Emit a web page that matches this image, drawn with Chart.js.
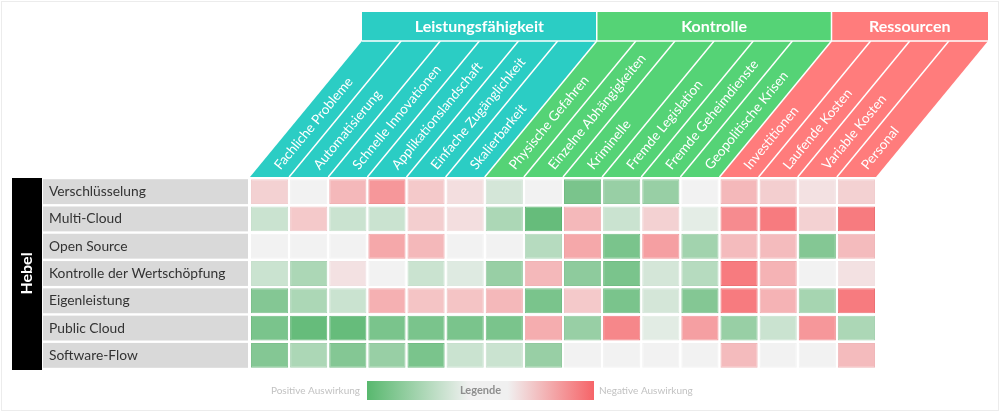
<!DOCTYPE html>
<html>
<head>
<meta charset="utf-8">
<script src="https://cdn.jsdelivr.net/npm/chart.js@4"></script>
<style>
  html, body { margin: 0; padding: 0; background: #fff; }
</style>
</head>
<body>
<canvas id="chart" width="1000" height="413"></canvas>
<script>
const criteria = [
  'Fachliche Probleme', 'Automatisierung', 'Schnelle Innovationen', 'Applikationslandschaft',
  'Einfache Zugänglichkeit', 'Skalierbarkeit',
  'Physische Gefahren', 'Einzelne Abhängigkeiten', 'Kriminelle', 'Fremde Legislation',
  'Fremde Geheimdienste', 'Geopolitische Krisen',
  'Investitionen', 'Laufende Kosten', 'Variable Kosten', 'Personal'
];
const groups = ['Leistungsfähigkeit', 'Kontrolle', 'Ressourcen'];
const groupSizes = [6, 6, 4];
const groupColors = ['#2bcdc4', '#55d376', '#ff7c7c'];

const levers = [
  'Verschlüsselung', 'Multi-Cloud', 'Open Source', 'Kontrolle der Wertschöpfung',
  'Eigenleistung', 'Public Cloud', 'Software-Flow'
];
const leverTitle = 'Hebel';

// > 0 = positive Auswirkung (grün), < 0 = negative Auswirkung (rot)
const impact = [
  [-0.2, 0, -0.35, -0.55, -0.25, -0.12, 0.15, 0, 0.6, 0.45, 0.45, 0, -0.35, -0.22, -0.1, -0.2],
  [0.2, -0.25, 0.2, 0.2, -0.22, -0.12, 0.35, 0.7, -0.35, 0.2, -0.2, 0.07, -0.62, -0.72, -0.2, -0.72],
  [0, 0, 0, -0.45, -0.35, 0, 0, 0.3, -0.45, 0.6, -0.5, 0.4, -0.33, -0.33, 0.55, -0.33],
  [0.2, 0.35, -0.1, 0, 0.2, 0.1, 0.45, -0.35, 0.5, 0.6, 0.15, 0.3, -0.72, -0.38, 0, -0.1],
  [0.55, 0.35, 0.2, -0.4, -0.28, -0.28, -0.35, 0.6, -0.25, 0.6, 0.15, 0.55, -0.72, -0.38, 0.38, -0.72],
  [0.6, 0.7, 0.7, 0.6, 0.6, 0.6, 0.6, -0.42, 0.45, -0.65, 0.08, -0.5, 0.45, 0.2, -0.55, 0.35],
  [0.55, 0.35, 0.55, 0.45, 0.6, 0.2, 0.2, 0.45, 0, 0, 0, 0, -0.33, 0, 0, -0.33]
];

const legendTitle = 'Legende';
const legendLeft = 'Positive Auswirkung';
const legendRight = 'Negative Auswirkung';

const NEUTRAL = [242, 242, 242];
const GOOD = [92, 184, 114];
const BAD = [247, 118, 122];
const SHIFT = 112;   // horizontal offset of the slanted headers
const HEAD_TOP = 41;
const FONT = 'Lato, "Open Sans", sans-serif';

function cellColor(v, dark) {
  const t = Math.min(1, Math.abs(v) / 0.75);
  const end = v >= 0 ? GOOD : BAD;
  const rgb = NEUTRAL.map((n, i) => Math.round(n + (end[i] - n) * t - (dark ? 10 * t : 0)));
  return `rgb(${rgb.join(',')})`;
}

function groupOf(col) {
  let sum = 0;
  for (let g = 0; g < groupSizes.length; g++) {
    sum += groupSizes[g];
    if (col < sum) return g;
  }
  return groupSizes.length - 1;
}

const GAP = 0.045;
const datasets = levers.map((lever, r) => ({
  label: lever,
  data: impact[r].map(() => [r + GAP, r + 1 - GAP]),
  backgroundColor: impact[r].map(v => cellColor(v)),
  borderColor: impact[r].map(v => cellColor(v, true)),
  borderWidth: 1,
  borderSkipped: false,
  grouped: false,
  barPercentage: 0.95,
  categoryPercentage: 1
}));

const decor = {
  id: 'decor',
  beforeDraw(chart) {
    const c = chart.ctx;
    c.save();
    c.fillStyle = '#fff';
    c.fillRect(0, 0, chart.width, chart.height);
    c.strokeStyle = '#ececec';
    c.lineWidth = 1;
    c.strokeRect(1.5, 1.5, chart.width - 3, chart.height - 4);
    c.restore();
  },
  afterDraw(chart) {
    const c = chart.ctx;
    const { chartArea, scales } = chart;
    const x = scales.x;
    const y = scales.y;
    const colW = x.getPixelForValue(1) - x.getPixelForValue(0);
    const edge = i => x.getPixelForValue(0) - colW / 2 + i * colW;
    const bottom = chartArea.top - 1;
    c.save();

    // slanted column headers
    criteria.forEach((name, i) => {
      c.fillStyle = groupColors[groupOf(i)];
      c.beginPath();
      c.moveTo(edge(i), bottom);
      c.lineTo(edge(i + 1), bottom);
      c.lineTo(edge(i + 1) + SHIFT, HEAD_TOP);
      c.lineTo(edge(i) + SHIFT, HEAD_TOP);
      c.closePath();
      c.fill();
    });
    c.strokeStyle = '#fff';
    c.lineWidth = 1.5;
    for (let i = 1; i < criteria.length; i++) {
      c.beginPath();
      c.moveTo(edge(i), bottom);
      c.lineTo(edge(i) + SHIFT, HEAD_TOP);
      c.stroke();
    }
    const ang = Math.atan2(bottom - HEAD_TOP, SHIFT);
    c.fillStyle = '#fff';
    c.font = '13.5px ' + FONT;
    c.textAlign = 'left';
    c.textBaseline = 'middle';
    criteria.forEach((name, i) => {
      const cx = (edge(i) + edge(i + 1)) / 2;
      const d = 12;
      c.save();
      c.translate(cx + d * Math.cos(ang), bottom - d * Math.sin(ang));
      c.rotate(-ang);
      c.fillText(name, 0, 0);
      c.restore();
    });

    // group bars
    let start = 0;
    groups.forEach((g, k) => {
      const x0 = edge(start) + SHIFT;
      const x1 = edge(start + groupSizes[k]) + SHIFT;
      c.fillStyle = groupColors[k];
      c.fillRect(x0, 12, x1 - x0, HEAD_TOP - 12);
      c.fillStyle = '#fff';
      c.font = 'bold 16px ' + FONT;
      c.textAlign = 'center';
      c.fillText(g, (x0 + x1) / 2, 27);
      if (k > 0) {
        c.fillRect(x0 - 0.75, 12, 1.5, HEAD_TOP - 12);
      }
      start += groupSizes[k];
    });
    c.fillStyle = '#fff';
    c.fillRect(edge(0) + SHIFT, HEAD_TOP - 0.75, edge(criteria.length) - edge(0), 1.5);

    // row labels
    levers.forEach((name, r) => {
      const y0 = y.getPixelForValue(r);
      const y1 = y.getPixelForValue(r + 1);
      c.fillStyle = '#d9d9d9';
      c.fillRect(43, y0 + 1.2, 205, y1 - y0 - 2.4);
      c.fillStyle = '#333';
      c.font = '13.8px ' + FONT;
      c.textAlign = 'left';
      c.fillText(name, 49, (y0 + y1) / 2);
    });

    // "Hebel" bar
    const yTop = y.getPixelForValue(0);
    const yBot = y.getPixelForValue(levers.length);
    c.fillStyle = '#000';
    c.fillRect(12, yTop, 30, yBot - yTop + 1);
    c.save();
    c.translate(27, (yTop + yBot) / 2);
    c.rotate(-Math.PI / 2);
    c.fillStyle = '#fff';
    c.font = 'bold 16px ' + FONT;
    c.textAlign = 'center';
    c.fillText(leverTitle, 0, 0);
    c.restore();

    // legend
    const lx0 = 367, lx1 = 594, ly0 = 381, ly1 = 400;
    const grad = c.createLinearGradient(lx0, 0, lx1, 0);
    grad.addColorStop(0, 'rgb(88,184,110)');
    grad.addColorStop(0.45, '#f0f0f0');
    grad.addColorStop(0.62, '#f0f0f0');
    grad.addColorStop(1, 'rgb(246,100,104)');
    c.fillStyle = grad;
    c.fillRect(lx0, ly0, lx1 - lx0, ly1 - ly0);
    c.fillStyle = '#8e8e8e';
    c.font = 'bold 11px ' + FONT;
    c.textAlign = 'center';
    c.fillText(legendTitle, (lx0 + lx1) / 2, (ly0 + ly1) / 2);
    c.fillStyle = '#c2c2c2';
    c.font = '10px ' + FONT;
    c.textAlign = 'right';
    c.fillText(legendLeft, lx0 - 7, (ly0 + ly1) / 2);
    c.textAlign = 'left';
    c.fillText(legendRight, lx1 + 5, (ly0 + ly1) / 2);

    c.restore();
  }
};

new Chart(document.getElementById('chart'), {
  type: 'bar',
  data: { labels: criteria, datasets },
  options: {
    responsive: false,
    animation: false,
    layout: { padding: { left: 250, right: 124, top: 178, bottom: 44 } },
    scales: {
      x: { type: 'category', display: false },
      y: { type: 'linear', min: 0, max: levers.length, reverse: true, display: false }
    },
    plugins: { legend: { display: false }, tooltip: { enabled: false } }
  },
  plugins: [decor]
});
</script>
</body>
</html>
